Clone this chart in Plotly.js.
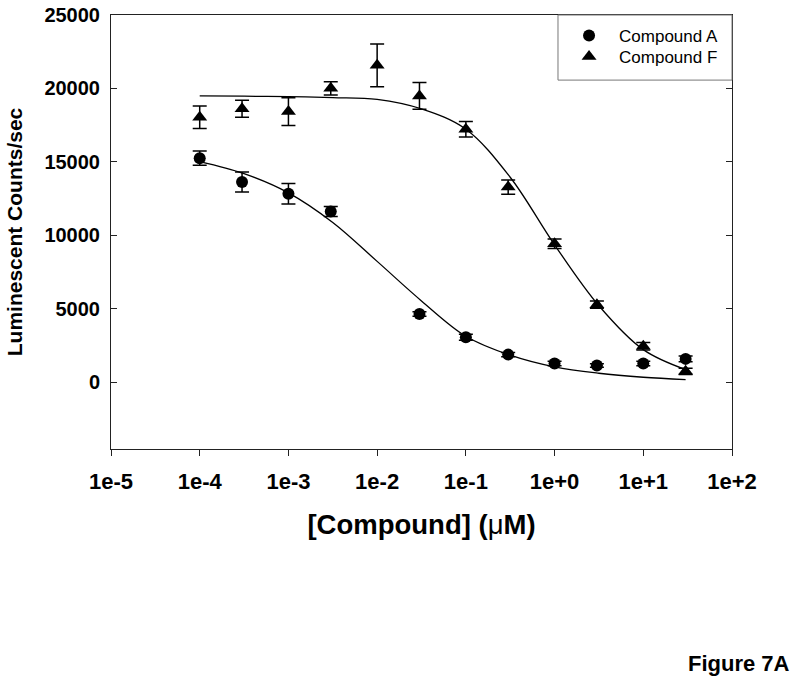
<!DOCTYPE html>
<html>
<head>
<meta charset="utf-8">
<script src="https://cdn.plot.ly/plotly-3.0.1.min.js"></script>
<style>html,body{margin:0;padding:0;background:#fff;}#chart{width:800px;height:685px;}</style>
</head>
<body>
<div id="chart"></div>
<script>
// Measured points
const concA = [1e-4, 3e-4, 1e-3, 3e-3, 3e-2, 0.1, 0.3, 1, 3, 10, 30];
const countsA = [15250, 13620, 12820, 11620, 4640, 3050, 1870, 1260, 1130, 1260, 1580];
const errA = [480, 680, 700, 340, 150, 200, 150, 150, 120, 150, 200];

const concF = [1e-4, 3e-4, 1e-3, 3e-3, 1e-2, 3e-2, 0.1, 0.3, 1, 3, 10, 30];
const countsF = [18040, 18620, 18420, 20010, 21570, 19490, 17220, 13280, 9420, 5270, 2440, 730];
const errF = [770, 580, 950, 450, 1460, 910, 530, 490, 320, 250, 250, 220];

// Fitted curves (at half-decade steps)
const fitConcA = [1e-4, 3.16e-4, 1e-3, 3.16e-3, 1e-2, 3.16e-2, 0.1, 0.316, 1, 3.16, 10, 30];
const fitCountsA = [15020, 14200, 12890, 10870, 8220, 5530, 3120, 1830, 1030, 600, 330, 170];
const fitConcF = [1e-4, 3.16e-4, 1e-3, 3.16e-3, 1e-2, 3.16e-2, 0.1, 0.316, 1, 3.16, 10, 30];
const fitCountsF = [19490, 19470, 19440, 19370, 19250, 18600, 17220, 13950, 9350, 5200, 2210, 850];

const xTickVals = [1e-5, 1e-4, 1e-3, 1e-2, 1e-1, 1, 10, 100];
const xTickText = ['1e-5', '1e-4', '1e-3', '1e-2', '1e-1', '1e+0', '1e+1', '1e+2'];
const yTickVals = [0, 5000, 10000, 15000, 20000, 25000];
const yTickText = ['0', '5000', '10000', '15000', '20000', '25000'];

const FONT = '"Liberation Sans", Arial, Helvetica, sans-serif';

const traces = [
  {x: fitConcA, y: fitCountsA, mode: 'lines', line: {color: '#000', width: 1.3, shape: 'spline', smoothing: 1}, showlegend: false, hoverinfo: 'skip'},
  {x: fitConcF, y: fitCountsF, mode: 'lines', line: {color: '#000', width: 1.3, shape: 'spline', smoothing: 1}, showlegend: false, hoverinfo: 'skip'},
  {x: concA, y: countsA, name: 'Compound A', mode: 'markers', legend: 'legend',
   marker: {symbol: 'circle', size: 12, color: '#000'},
   error_y: {type: 'data', array: errA, visible: true, color: '#000', thickness: 1.5, width: 7}},
  {x: concF, y: countsF, name: 'Compound F', mode: 'markers', legend: 'legend2',
   marker: {symbol: 'triangle-up', size: 13, color: '#000'},
   error_y: {type: 'data', array: errF, visible: true, color: '#000', thickness: 1.5, width: 7}}
];

const legendBase = {xanchor: 'left', yanchor: 'top', bgcolor: 'rgba(0,0,0,0)', borderwidth: 0,
                    font: {family: FONT, size: 17, color: '#000'}, itemwidth: 50};

const layout = {
  width: 800, height: 685,
  margin: {l: 111, r: 68, t: 15, b: 235.5, pad: 0},
  paper_bgcolor: '#fff', plot_bgcolor: '#fff',
  font: {family: FONT, color: '#000'},
  showlegend: true,
  legend: Object.assign({}, legendBase, {x: 0.7215, y: 0.993}),
  legend2: Object.assign({}, legendBase, {x: 0.7215, y: 0.945}),
  xaxis: {type: 'log', range: [-5, 2], tickvals: xTickVals, ticktext: xTickText,
          showline: true, linecolor: '#222', linewidth: 1, mirror: true, showgrid: false, zeroline: false,
          ticks: 'outside', ticklen: 6, tickcolor: '#222', ticklabelstandoff: 7,
          tickfont: {family: FONT, size: 22, weight: 'bold'},
          title: {text: '[Compound] (<span style="font-weight:normal">μ</span>M)', font: {family: FONT, size: 27.5, weight: 'bold'}, standoff: 21},
          automargin: false},
  yaxis: {range: [-4558, 25000], tickvals: yTickVals, ticktext: yTickText,
          showline: true, linecolor: '#222', linewidth: 1, mirror: 'ticks', showgrid: false, zeroline: false,
          ticks: 'inside', ticklen: 6, tickcolor: '#222', ticklabelstandoff: 6,
          tickfont: {family: FONT, size: 20, weight: 'bold'},
          title: {text: 'Luminescent Counts/sec', font: {family: FONT, size: 21, weight: 'bold'}, standoff: 16},
          automargin: false},
  shapes: [
    {type: 'rect', xref: 'paper', yref: 'paper', x0: 0.7198, x1: 1, y0: 0.850, y1: 1,
     line: {color: '#777', width: 1}, fillcolor: 'rgba(0,0,0,0)', layer: 'above'}
  ],
  annotations: [
    {text: 'Figure 7A', xref: 'paper', yref: 'paper', x: 1.097, y: -0.495, xanchor: 'right', yanchor: 'middle',
     showarrow: false, font: {family: FONT, size: 22, weight: 'bold', color: '#000'}}
  ]
};

Plotly.newPlot('chart', traces, layout, {displayModeBar: false, staticPlot: true});
</script>
</body>
</html>
